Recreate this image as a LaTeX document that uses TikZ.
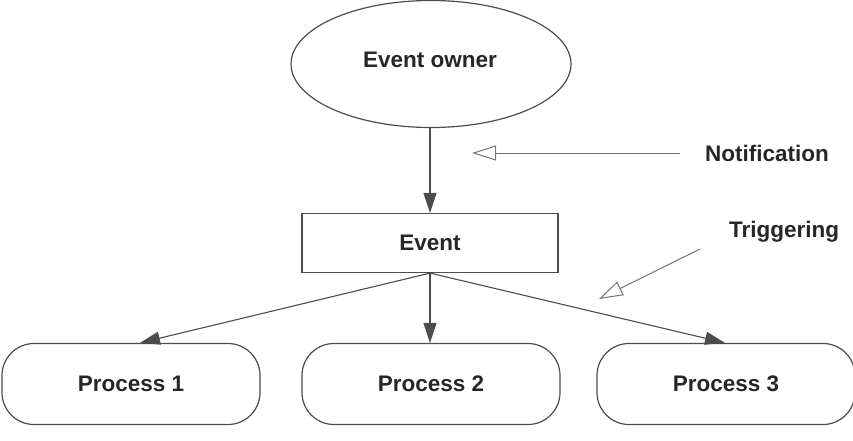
\documentclass[tikz,border=0pt]{standalone}
\usepackage{fontspec}
\setmainfont{Liberation Sans}
\usetikzlibrary{shapes.geometric,arrows.meta}
\begin{document}
\begin{tikzpicture}[x=1pt,y=-1pt,
  lbl/.style={font=\fontsize{22.5}{27}\selectfont\bfseries, text=black!85},
  shp/.style={draw=black!70, line width=1.2pt, inner sep=0pt},
  proc/.style={shp, rounded corners=32pt, minimum width=258pt, minimum height=81pt},
  flow/.style={draw=black!70, line width=1.1pt, -{Triangle[length=20pt,width=13pt]}},
  hint/.style={draw=black!55, line width=1pt, -{Triangle[open,length=24pt,width=15pt]}}]
\useasboundingbox (0,0) rectangle (853,441);
\node[shp, ellipse, minimum width=280pt, minimum height=127pt] (own) at (431,64) {};
\node[lbl] (ownt) at (430,60) {Event owner};
\node[shp, minimum width=256pt, minimum height=59pt, lbl] (ev) at (430,243) {Event};
\node[proc, lbl] (p1) at (131,384) {Process 1};
\node[proc, lbl] (p2) at (431,384) {Process 2};
\node[proc, lbl] (p3) at (726,384) {Process 3};
\node[lbl] (not) at (767,153) {Notification};
\node[lbl] (trg) at (784,232) {Triggering};
\coordinate (ns) at (680,153);
\coordinate (ne) at (472,153);
\coordinate (ts) at (700,249);
\coordinate (te) at (599,299);
\draw[flow] (own.south -| ev.north) -- (ev.north);
\draw[flow] (ev.south) -- (p1.north -| 140,0);
\draw[flow] (ev.south) -- (p2.north -| ev.south);
\draw[flow] (ev.south) -- (p3.north -| 725,0);
\draw[hint] (ns) -- (ne);
\draw[hint] (ts) -- (te);
\end{tikzpicture}
\end{document}
